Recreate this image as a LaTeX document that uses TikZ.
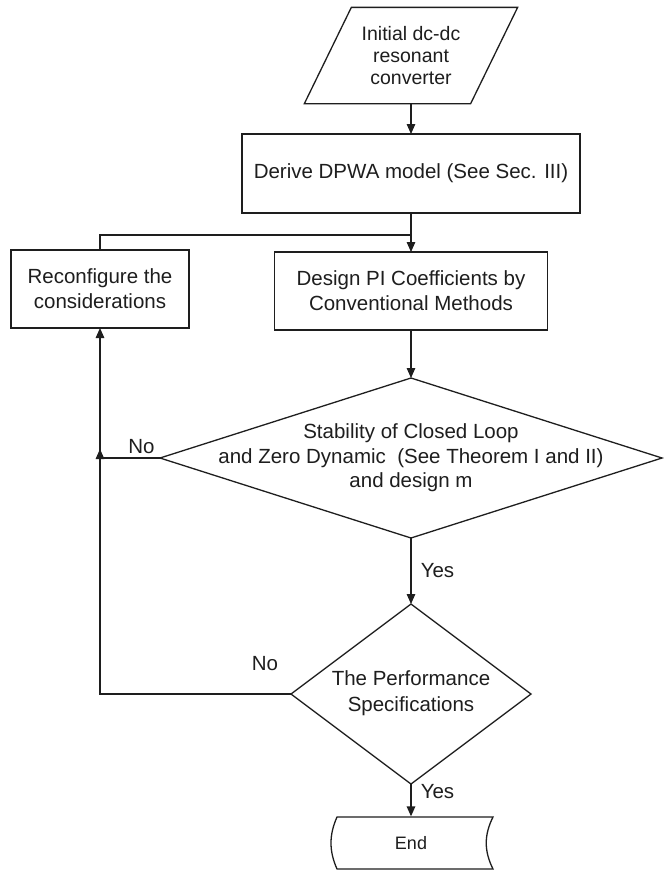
\documentclass[tikz,border=0pt]{standalone}
\usepackage{fontspec}
\setmainfont{Liberation Sans}
\usetikzlibrary{arrows.meta,shapes.geometric}
\definecolor{ink}{HTML}{1E1E1E}
\begin{document}
\begin{tikzpicture}[x=1pt,y=-1pt,
  line width=1.3pt, draw=ink,
  every node/.style={font=\fontsize{20.5}{25}\selectfont, text=ink},
  flowbox/.style={draw=ink, rectangle, inner sep=0pt, outer sep=0pt, align=center},
  decision/.style={draw=ink, diamond, inner sep=0pt, outer sep=0pt},
  flowarrow/.style={-{Triangle[length=10pt,width=8.5pt]}},
  lbl/.style={inner sep=0pt, anchor=base}]

\useasboundingbox (0,0) rectangle (664,871);
\fill[white] (0,0) rectangle (664,871);

% input (parallelogram)
\node[inner sep=0pt, minimum width=165pt, minimum height=95pt, align=center,
      font=\fontsize{19.5}{22}\selectfont] (init) at (411,55.5)
      {Initial dc-dc\\resonant\\converter};
\draw ([xshift=23.5pt]init.north west) -- ([xshift=23.5pt]init.north east)
   -- ([xshift=-23.5pt]init.south east) -- ([xshift=-23.5pt]init.south west) -- cycle;

% process boxes
\node[flowbox, minimum width=338pt, minimum height=79pt] (dpwa) at (411,173.5)
      {Derive DPWA model (See Sec. III)};
\node[flowbox, minimum width=273pt, minimum height=78pt] (design) at (411,291)
      {Design PI Coefficients by\\Conventional Methods};
\node[flowbox, minimum width=178pt, minimum height=78pt] (reconf) at (100,289)
      {Reconfigure the\\considerations};

% decisions
\node[decision, minimum width=502pt, minimum height=160pt] (d1) at (411,458) {};
\node[align=center, inner sep=0pt, font=\fontsize{20.5}{24.5}\selectfont] (d1text) at (411,458)
      {Stability of Closed Loop\\and Zero Dynamic\ \ (See Theorem I and II)\\and design m};
\node[decision, minimum width=240pt, minimum height=180pt] (d2) at (411,694) {};
\node[align=center, inner sep=0pt, font=\fontsize{20.5}{26}\selectfont] (d2text) at (411,693)
      {The Performance\\Specifications};

% terminator
\node[inner sep=0pt, minimum width=156pt, minimum height=52pt,
      font=\fontsize{18}{22}\selectfont] (fin) at (411,843) {End};
\draw (337,817) -- (493,817) .. controls (484,835) and (484,851) .. (493,869)
   -- (337,869) .. controls (329,851) and (329,835) .. (337,817) -- cycle;

% connectors
\coordinate (merge) at (411,235);
\coordinate (loopjoin) at (100,449);
\draw[flowarrow] (init.south) -- (dpwa.north);
\draw[flowarrow] (dpwa.south) -- (design.north);
\draw (reconf.north) |- (merge);
\draw[flowarrow] (design.south) -- (d1.north);
\draw[flowarrow] (d1.west) -| (reconf.south);
\draw[flowarrow] (d2.west) -| (loopjoin);
\draw[flowarrow] (d1.south) -- (d2.north);
\draw[flowarrow] (d2.south) -- (fin.north);

% branch labels
\node[lbl] (no1) at (141.5,453) {No};
\node[lbl] (no2) at (265,670) {No};
\node[lbl] (yes1) at (437.5,577) {Yes};
\node[lbl] (yes2) at (437.5,798) {Yes};
\end{tikzpicture}
\end{document}
